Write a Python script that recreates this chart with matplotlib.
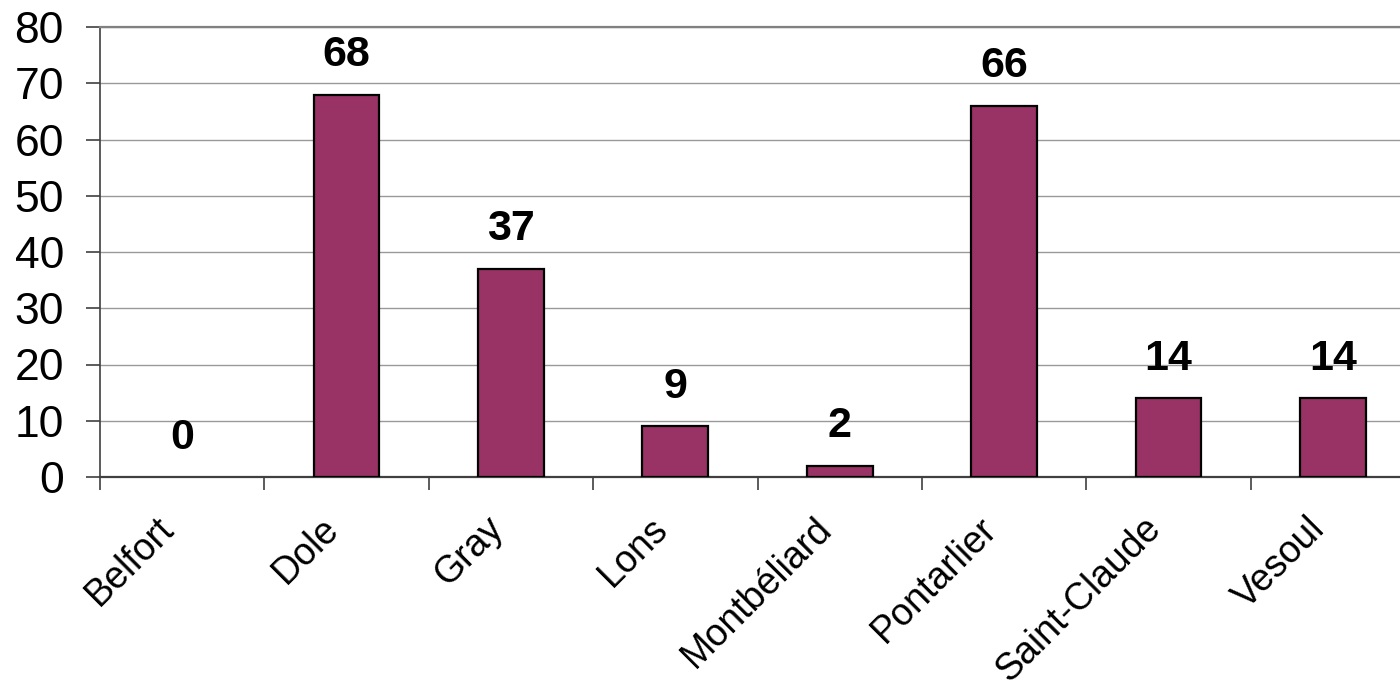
import matplotlib
matplotlib.use("Agg")
import matplotlib.pyplot as plt
import matplotlib.transforms as mtransforms
import numpy as np

plt.rcParams['font.family'] = ['Liberation Sans', 'DejaVu Sans']

# Counts per site
sites = ["Belfort", "Dole", "Gray", "Lons", "Montbéliard",
         "Pontarlier", "Saint-Claude", "Vesoul"]
counts = [0, 68, 37, 9, 2, 66, 14, 14]
y_ticks = [0, 10, 20, 30, 40, 50, 60, 70, 80]

fig = plt.figure(figsize=(14, 6.82), dpi=100)
# plot area runs slightly past the right edge of the canvas
ax = fig.add_axes([100 / 1400, 1 - 477 / 682, 1315 / 1400, 450 / 682])

x = np.arange(len(sites))
bars = ax.bar(x, counts, width=0.4, color="#993366", edgecolor="black",
              linewidth=1.6, zorder=3)
# an empty bar leaves no outline on the baseline
for b, v in zip(bars, counts):
    if v == 0:
        b.set_linewidth(0)

for xi, v in zip(x, counts):
    ax.annotate(str(v), xy=(xi, v), xytext=(0, 14), textcoords="offset points",
                ha="center", va="bottom", fontsize=31, fontweight="bold",
                color="black")

ax.set_xlim(-0.5, len(sites) - 0.5)
ax.set_ylim(0, 80)
ax.set_yticks(y_ticks)
ax.tick_params(axis="y", labelsize=32, length=10, width=1.2, pad=16,
               color="#404040", labelcolor="black")

# category labels at centres, tick marks at the category boundaries
ax.set_xticks(x)
ax.set_xticklabels(sites, rotation=45, ha="right", rotation_mode="anchor",
                   fontsize=27)
ax.tick_params(axis="x", which="major", length=0, pad=24)
ax.set_xticks(np.arange(len(sites)) - 0.5, minor=True)
ax.tick_params(axis="x", which="minor", length=9, width=1.2, color="#404040")
shift = mtransforms.ScaledTranslation(-26 / 100, 0, fig.dpi_scale_trans)
for lbl in ax.get_xticklabels():
    lbl.set_transform(lbl.get_transform() + shift)

ax.yaxis.grid(True, color="#999999", linewidth=1.0, zorder=0)
ax.set_axisbelow(True)

ax.spines["right"].set_visible(False)
ax.spines["top"].set_color("#808080")
ax.spines["top"].set_linewidth(1.6)
ax.spines["left"].set_color("#404040")
ax.spines["left"].set_linewidth(1.2)
ax.spines["bottom"].set_color("#404040")
ax.spines["bottom"].set_linewidth(1.6)

fig.savefig("out.png", dpi=100)
